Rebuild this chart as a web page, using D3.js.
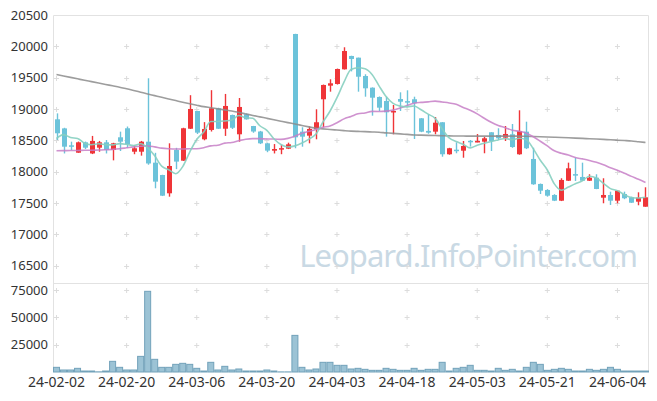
<!DOCTYPE html>
<html><head><meta charset="utf-8">
<script src="https://cdn.jsdelivr.net/npm/d3@7"></script>
<style>body{margin:0;background:#fff}svg{display:block}text{font-family:'Noto Sans',sans-serif}</style>
</head><body><svg id="c" width="657" height="401"></svg>
<script>
const dates=["24-02-02","24-02-05","24-02-06","24-02-07","24-02-08","24-02-13","24-02-14","24-02-15","24-02-16","24-02-19",
"24-02-20","24-02-21","24-02-22","24-02-23","24-02-26","24-02-27","24-02-28","24-02-29","24-03-04","24-03-05",
"24-03-06","24-03-07","24-03-08","24-03-11","24-03-12","24-03-13","24-03-14","24-03-15","24-03-18","24-03-19",
"24-03-20","24-03-21","24-03-22","24-03-25","24-03-26","24-03-27","24-03-28","24-03-29","24-04-01","24-04-02",
"24-04-03","24-04-04","24-04-05","24-04-08","24-04-09","24-04-11","24-04-12","24-04-15","24-04-16","24-04-17",
"24-04-18","24-04-19","24-04-22","24-04-23","24-04-24","24-04-25","24-04-26","24-04-29","24-04-30","24-05-02",
"24-05-03","24-05-07","24-05-08","24-05-09","24-05-10","24-05-13","24-05-14","24-05-16","24-05-17","24-05-20",
"24-05-21","24-05-22","24-05-23","24-05-24","24-05-27","24-05-28","24-05-29","24-05-30","24-05-31","24-06-03",
"24-06-04","24-06-05","24-06-07","24-06-10","24-06-11"];
const open=[18835,18690,18420,18302,18468,18290,18382,18468,18345,18548,
18692,18318,18318,18478,18143,17946,17654,18345,18175,18685,
18968,18516,18665,19011,18685,18904,18596,18915,18728,18640,
18452,18334,18355,18366,20197,18638,18574,18676,19155,19372,
19399,19633,19846,19819,19526,19340,19191,19127,18947,19159,
19125,19155,18851,18650,18638,18788,18277,18350,18334,18492,
18478,18478,18628,18585,18542,18596,18277,18638,18202,17803,
17707,17627,17536,17855,17960,17915,17855,17903,17584,17627,
17536,17643,17590,17520,17440];
const high=[18930,18700,18478,18480,18480,18570,18490,18505,18460,18638,
18720,18415,18490,19490,18300,17950,18452,18380,18700,19220,
18970,18790,19300,19020,19240,18910,19175,18930,18730,18650,
18460,18440,18425,18462,20200,18708,18720,18995,19390,19474,
19645,19985,19850,19820,19554,19345,19200,19196,19064,19266,
19298,19196,18855,18915,18872,18790,18380,18468,18489,18505,
18600,18553,18630,18692,18728,18760,18979,18797,18382,17810,
17720,17640,17894,18143,18223,18143,17958,17958,17894,17680,
17700,17680,17600,17670,17750];
const low=[18505,18290,18345,18300,18360,18280,18318,18290,18180,18329,
18380,18278,18255,18110,17734,17610,17600,18040,18170,18680,
18600,18500,18640,18680,18570,18680,18478,18830,18620,18440,
18310,18290,18278,18360,18373,18398,18452,18516,18708,19276,
19390,19630,19600,19276,19196,18893,18968,18558,18596,18968,
19053,18521,18630,18605,18596,18238,18270,18293,18222,18400,
18470,18293,18329,18505,18489,18380,18270,18360,17790,17643,
17600,17530,17530,17850,17851,17850,17850,17720,17495,17468,
17495,17560,17500,17463,17440];
const close=[18612,18398,18410,18468,18382,18490,18468,18345,18452,18478,
18437,18373,18478,18130,17840,17616,18090,18160,18692,19000,
18622,18681,19011,18685,19048,18700,19032,18835,18640,18452,
18335,18361,18375,18436,18548,18558,18681,18788,19383,19410,
19638,19925,19798,19515,19330,19180,19021,18947,18968,19116,
19120,19091,18638,18622,18781,18277,18373,18345,18409,18489,
18489,18532,18489,18532,18601,18393,18649,18373,17798,17696,
17616,17536,17867,18053,17955,17855,17903,17723,17627,17536,
17696,17575,17504,17584,17590];
const volume=[4270,1830,1830,3355,900,900,150,900,9760,4270,
1830,1830,14300,73800,11600,4270,4270,7000,7930,7000,
3355,900,8850,1830,5185,1830,2745,900,900,900,
1830,900,100,100,33500,4270,1830,2745,8850,8850,
6100,6100,2745,3355,2440,1525,1525,3355,2440,1525,
1525,3355,1525,2440,2440,8850,900,3355,4270,6100,
1525,1525,900,3355,1525,2440,900,4270,8850,7000,
1525,2440,3355,2440,900,900,2440,1525,2440,4270,
2440,900,900,900,900];
const ma5=[18530,18590,18545,18530,18454,18430,18444,18431,18427,18447,
18436,18417,18444,18379,18252,18087,18031,17967,18080,18312,
18513,18631,18801,18800,18809,18825,18895,18860,18851,18732,
18659,18525,18433,18392,18411,18456,18520,18602,18792,18964,
19180,19429,19631,19657,19641,19550,19369,19199,19089,19046,
19034,19048,18987,18917,18850,18682,18538,18480,18437,18379,
18421,18453,18482,18506,18529,18509,18533,18510,18363,18182,
18026,17804,17703,17754,17805,17853,17927,17898,17813,17729,
17697,17631,17588,17579,17590];
const ma20=[18334,18335,18336,18338,18340,18342,18345,18348,18355,18365,
18380,18395,18405,18410,18395,18375,18365,18360,18360,18366,
18366,18381,18411,18422,18455,18465,18494,18518,18527,18526,
18521,18520,18515,18531,18566,18613,18643,18674,18709,18729,
18780,18842,18881,18923,18937,18961,18960,18966,18982,19016,
19055,19091,19105,19114,19126,19111,19096,19074,19025,18979,
18922,18852,18787,18737,18701,18662,18643,18614,18556,18485,
18410,18332,18293,18265,18224,18203,18179,18148,18109,18061,
18022,17974,17924,17877,17826];
const ma60=[19550,19527,19504,19481,19458,19436,19414,19392,19370,19348,
19322,19296,19268,19240,19213,19186,19160,19134,19108,19084,
19060,19037,19020,19002,18985,18968,18945,18921,18897,18874,
18851,18828,18805,18782,18760,18737,18714,18692,18683,18673,
18664,18655,18647,18642,18638,18633,18628,18619,18611,18602,
18594,18585,18582,18579,18576,18573,18570,18569,18568,18567,
18567,18567,18567,18567,18567,18567,18566,18564,18560,18556,
18552,18548,18545,18540,18535,18530,18525,18520,18514,18508,
18502,18496,18489,18477,18465];
const priceTicks=[16500,17000,17500,18000,18500,19000,19500,20000,20500];
const volTicks=[25000,50000,75000];
const xTickLabels=["24-02-02","24-02-20","24-03-06","24-03-20","24-04-03","24-04-18","24-05-03","24-05-21","24-06-04"];

const svg=d3.select("#c");
const L=53,R=649,T=15,MB=282,VT=283,VB=372;
const x=d3.scaleBand().domain(dates).range([L,R]).paddingInner(0).paddingOuter(0);
const cx=d=>x(d)+x.bandwidth()/2;
const y=d3.scaleLinear().domain([16500,20500]).range([265.6,T]);
const yv=d3.scaleLinear().domain([0,75000]).range([VB,290]);
const grid="#e2e2e2";

// watermark
svg.append("text").attr("x",637).attr("y",267).attr("font-size",31)
  .attr("text-anchor","end").attr("letter-spacing","-0.95px")
  .attr("fill","#c9d9e4").text("Leopard.InfoPointer.com");

// plus grid marks
const gx=xTickLabels.map(cx);
const plus=(px,py)=>{svg.append("path").attr("d",`M${px-2.5},${py}H${px+2.5}M${px},${py-2.5}V${py+2.5}`).attr("stroke","#dcdcdc").attr("stroke-width",1);};
priceTicks.filter(v=>v<20500).forEach(v=>gx.forEach(px=>plus(px,Math.round(y(v))+0.5)));
volTicks.forEach(v=>gx.forEach(px=>plus(px,Math.round(yv(v))+0.5)));

// frames
svg.append("path").attr("d",`M${L+0.5},${VB}V${T+0.5}H${R-0.5}V${VB}`).attr("fill","none").attr("stroke",grid);
svg.append("path").attr("d",`M${L},${VT+0.5}H${R}`).attr("stroke",grid);

// y labels
svg.append("g").selectAll("text").data(priceTicks).join("text")
 .attr("x",48).attr("y",d=>y(d)).attr("dy","0.35em").attr("text-anchor","end")
 .attr("font-size",13).attr("fill","#333").text(d=>d);
svg.append("g").selectAll("text").data(volTicks).join("text")
 .attr("x",48).attr("y",d=>yv(d)).attr("dy","0.35em").attr("text-anchor","end")
 .attr("font-size",13).attr("fill","#333").text(d=>d);
svg.append("g").selectAll("text").data(xTickLabels).join("text")
 .attr("x",d=>cx(d)).attr("y",387).attr("text-anchor","middle")
 .attr("font-size",14).attr("fill","#333").text(d=>d);

// volume bars
svg.append("g").selectAll("rect").data(dates).join("rect")
 .attr("x",d=>x(d)+0.5).attr("width",x.bandwidth()-1)
 .attr("y",(d,i)=>yv(volume[i])).attr("height",(d,i)=>VB-yv(volume[i]))
 .attr("fill","#9cc3d5").attr("stroke","#72a2ba").attr("stroke-width",1);

// candles
const up="#ef3538",dn="#6cc3da";
const cg=svg.append("g");
dates.forEach((d,i)=>{
  const col=close[i]>=open[i]?up:dn;
  const xc=Math.round(cx(d))+0.5;
  cg.append("line").attr("x1",xc).attr("x2",xc).attr("y1",y(high[i])).attr("y2",y(low[i])).attr("stroke",col).attr("stroke-width",1.4);
  const t=y(Math.max(open[i],close[i])),b=y(Math.min(open[i],close[i]));
  cg.append("rect").attr("x",xc-2.5).attr("width",5).attr("y",t).attr("height",Math.max(1.5,b-t)).attr("fill",col);
});

// moving averages
const line=arr=>d3.line().x((d,i)=>cx(dates[i])).y(d=>y(d)).curve(d3.curveMonotoneX)(arr);
svg.append("path").attr("d",line(ma60)).attr("fill","none").attr("stroke","#8c8c8c").attr("stroke-width",1.6).attr("opacity",0.85);
svg.append("path").attr("d",line(ma20)).attr("fill","none").attr("stroke","#c77fc7").attr("stroke-width",1.6).attr("opacity",0.85);
svg.append("path").attr("d",line(ma5)).attr("fill","none").attr("stroke","#86cfc0").attr("stroke-width",1.6).attr("opacity",0.9);
</script></body></html>
